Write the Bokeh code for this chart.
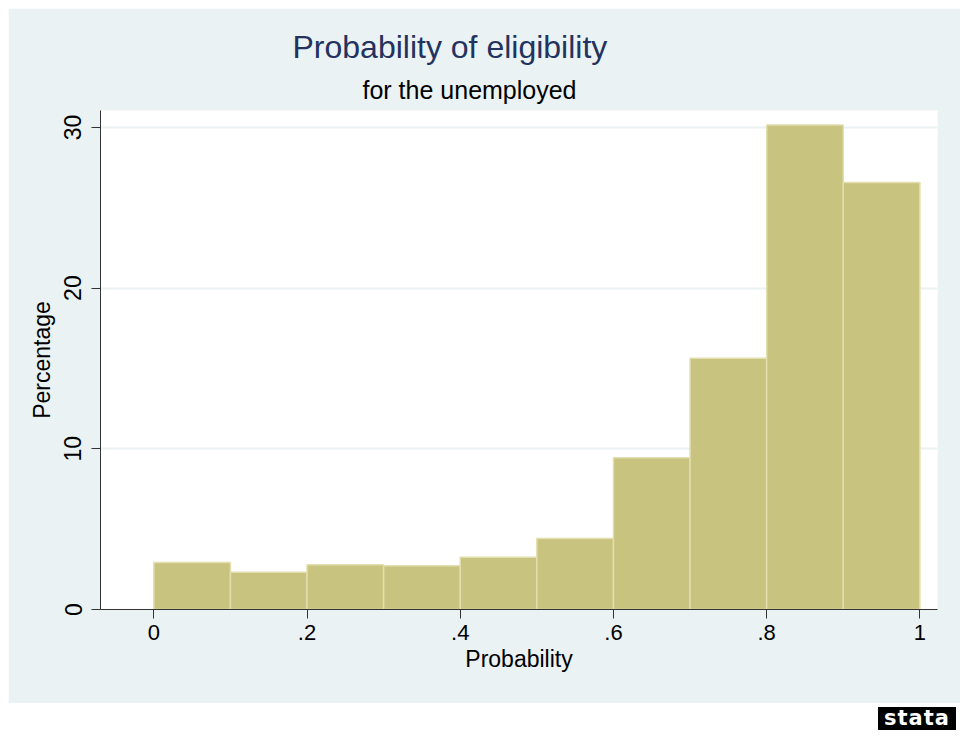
from bokeh.plotting import figure
from bokeh.models import Title, FixedTicker, Div
from bokeh.layouts import column
from bokeh.embed import file_html
from bokeh.resources import INLINE

# ---- data ----
bin_edges = [0.0, 0.1, 0.2, 0.3, 0.4, 0.5, 0.6, 0.7, 0.8, 0.9, 1.0]
percentages = [2.92, 2.32, 2.78, 2.72, 3.25, 4.42, 9.44, 15.64, 30.14, 26.57]
x_ticks = [0, 0.2, 0.4, 0.6, 0.8, 1]
x_tick_labels = ["0", ".2", ".4", ".6", ".8", "1"]
y_ticks = [0, 10, 20, 30]

title_text = "Probability of eligibility"
subtitle_text = "for the unemployed"
x_label = "Probability"
y_label = "Percentage"

BG = "#EAF2F3"
FONT = "Liberation Sans"

p = figure(width=952, height=695, output_backend="svg", toolbar_location=None,
           title=None, x_range=(-0.0696, 1.023), y_range=(0, 31.05),
           min_border_left=92, min_border_right=23, min_border_top=102,
           min_border_bottom=94)
p.background_fill_color = "white"
p.border_fill_color = BG
p.outline_line_color = None

p.quad(left=bin_edges[:-1], right=bin_edges[1:], bottom=0, top=percentages,
       fill_color="#C8C37E", line_color="#E2DEAE", line_width=1.5)

for ax in (p.xaxis[0], p.yaxis[0]):
    ax.axis_line_color = "#333333"
    ax.major_tick_line_color = "#333333"
    ax.minor_tick_line_color = None
    ax.major_tick_out = 9
    ax.major_tick_in = 0
    ax.major_label_text_font = FONT
    ax.major_label_text_font_size = "22px"
    ax.major_label_text_color = "black"
    ax.axis_label_text_font = FONT
    ax.axis_label_text_font_size = "23px"
    ax.axis_label_text_font_style = "normal"
    ax.axis_label_text_color = "black"

p.xaxis.ticker = FixedTicker(ticks=x_ticks)
p.xaxis.major_label_overrides = dict(zip(x_ticks, x_tick_labels))
p.xaxis.axis_label = x_label
p.xaxis.major_label_standoff = 6
p.xaxis.axis_label_standoff = 3

p.yaxis.ticker = FixedTicker(ticks=y_ticks)
p.yaxis.major_label_orientation = "vertical"
p.yaxis.major_label_text_font_size = "23px"
p.yaxis.axis_label = y_label
p.yaxis.major_label_standoff = 10
p.yaxis.axis_label_standoff = 7

p.xgrid.visible = False
p.ygrid.ticker = FixedTicker(ticks=y_ticks)
p.ygrid.grid_line_color = BG
p.ygrid.grid_line_width = 2

sub = Title(text=subtitle_text, align="left", offset=262, text_font=FONT,
            text_font_size="25px", text_font_style="normal", text_color="black",
            standoff=13)
p.add_layout(sub, "above")
main = Title(text=title_text, align="left", offset=192, text_font=FONT,
             text_font_size="32px", text_font_style="normal", text_color="#23325F",
             standoff=6)
p.add_layout(main, "above")

logo = Div(text='<div style="margin-left:865px;margin-top:-1px;width:78px;height:23px;'
                'background:#000;color:#fff;font-family:\'DejaVu Sans\';font-weight:bold;'
                'font-size:21px;line-height:23px;text-align:center;letter-spacing:1px;">stata</div>',
           width=952, height=30)

layout = column(p, logo, margin=(8, 0, 0, 8))
open("out.html", "w").write(file_html(layout, INLINE))
